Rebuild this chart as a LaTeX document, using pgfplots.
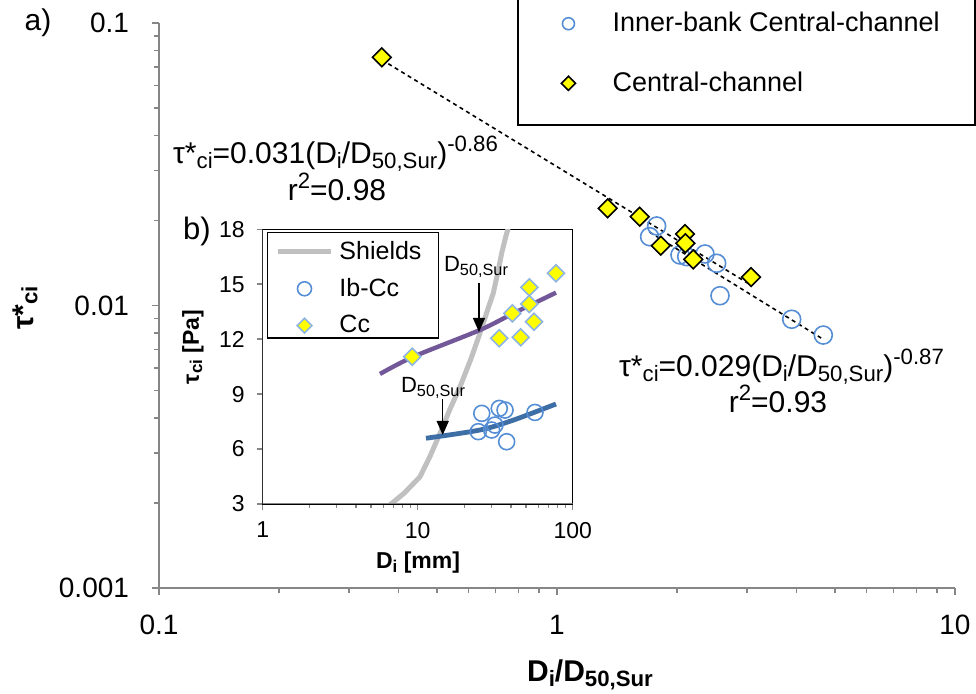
\documentclass[border=0pt]{standalone}
\usepackage{fontspec}
\setmainfont{Liberation Sans}
\usepackage{pgfplots}
\pgfplotsset{compat=1.18}
\usetikzlibrary{arrows.meta}
\definecolor{axgray}{RGB}{134,134,134}
\definecolor{cblue}{RGB}{85,142,213}
\definecolor{dblue}{RGB}{141,180,226}
\definecolor{cyel}{RGB}{255,255,0}
\definecolor{purp}{RGB}{114,88,152}
\definecolor{fitblue}{RGB}{62,110,166}
\definecolor{shgray}{RGB}{192,192,192}
\newcommand{\fs}[1]{\fontsize{#1pt}{#1pt}\selectfont}
\makeatletter
\newcommand{\sbt}[1]{{\@tempdima=\f@size pt\relax\raisebox{-0.14em}{\fontsize{\strip@pt\dimexpr 0.74\@tempdima\relax}{\strip@pt\dimexpr 0.74\@tempdima\relax}\selectfont #1}}}
\newcommand{\spt}[1]{{\@tempdima=\f@size pt\relax\raisebox{0.42em}{\fontsize{\strip@pt\dimexpr 0.74\@tempdima\relax}{\strip@pt\dimexpr 0.74\@tempdima\relax}\selectfont #1}}}
\makeatother
\begin{document}
\begin{tikzpicture}
\path[use as bounding box] (0pt,0pt) rectangle (488pt,-347pt);
% ---------------- main axis ----------------
\begin{axis}[
  at={(79.5pt,-294pt)}, anchor=south west,
  scale only axis, width=398pt, height=282.5pt,
  xmode=log, ymode=log, xmin=0.1, xmax=10, ymin=0.001, ymax=0.1,
  axis lines=left, axis line style={axgray, line width=0.75pt, -},
  tick style={axgray, line width=0.75pt}, tick align=outside,
  major tick length=3.5pt, minor tick length=2.5pt,
  xtick={0.1,1,10}, xticklabels={0.1,1,10},
  ytick={0.001,0.01,0.1}, yticklabels={0.001,0.01,0.1},
  minor xtick={0.2,0.3,0.4,0.5,0.6,0.7,0.8,0.9,2,3,4,5,6,7,8,9},
  minor ytick={0.002,0.003,0.004,0.005,0.006,0.007,0.008,0.009,0.02,0.03,0.04,0.05,0.06,0.07,0.08,0.09},
  xticklabel style={font=\fs{14}, yshift=-6.5pt},
  yticklabel style={font=\fs{14}, xshift=-8pt},
  clip=false,
  legend style={draw=none, fill=none, inner sep=0pt, row sep=14.5pt, column sep=16.5pt,
    font=\fs{13.5}, at={(axis description cs:0.505,1.0265)}, anchor=north west},
  legend cell align=left,
  legend image code/.code={\draw[mark repeat=2,mark phase=2,#1] plot coordinates {(0pt,0pt) (15pt,0pt) (30pt,0pt)};},
]
\addlegendimage{/tikz/only marks, mark=o, cblue, mark size=3pt, line width=0.8pt}
\addlegendentry{Inner-bank Central-channel}
\addlegendimage{/tikz/only marks, mark=square*, mark options={rotate=45, fill=cyel, draw=black}, mark size=2.5pt, line width=0.8pt}
\addlegendentry{Central-channel}
% Inner-bank Central-channel
\addplot[forget plot, only marks, mark=o, cblue, mark size=4.5pt, line width=0.8pt] coordinates {
 (1.780,0.01912) (1.709,0.01752) (2.037,0.01510) (2.118,0.01489) (2.354,0.01522)
 (2.519,0.01411) (2.568,0.01083) (3.888,0.00894) (4.668,0.00786)
};
% Central-channel
\addplot[forget plot, only marks, mark=square*, mark options={rotate=45, fill=cyel, draw=black}, mark size=3.3pt, line width=0.8pt] coordinates {
 (0.363,0.0756) (1.341,0.02208) (1.614,0.02062) (1.823,0.01628) (2.097,0.01791)
 (2.101,0.01661) (2.200,0.01457) (3.073,0.01261)
};
% power-law fits
\addplot[forget plot, black, line width=0.8pt, dash pattern=on 2pt off 1.8pt] coordinates {(0.363,0.0741) (3.073,0.01181)};
\addplot[forget plot, black, line width=0.8pt, dash pattern=on 2pt off 1.8pt] coordinates {(1.709,0.01819) (4.668,0.00759)};
\end{axis}
% ---------------- inset axis ----------------
\begin{axis}[
  at={(131.35pt,-252pt)}, anchor=south west,
  scale only axis, width=155pt, height=137.35pt,
  xmode=log, xmin=1, xmax=100, ymin=3, ymax=18,
  axis line style={black, line width=0.75pt},
  tick style={axgray, line width=0.75pt}, tick align=outside,
  major tick length=3pt, minor tick length=2pt,
  xtick={1,10,100}, xticklabels={1,10,100},
  ytick={3,6,9,12,15,18}, yticklabels={3,6,9,12,15,18},
  minor xtick={2,3,4,5,6,7,8,9,20,30,40,50,60,70,80,90},
  xtick pos=bottom, ytick pos=left,
  xticklabel style={font=\fs{11.5}, yshift=-2.5pt},
  yticklabel style={font=\fs{11.5}, xshift=-2.5pt},
  legend style={draw=none, fill=none, inner sep=0pt, row sep=4pt, column sep=1pt,
    font=\fs{12.5}, at={(axis description cs:0.04,0.973)}, anchor=north west},
  legend cell align=left,
  legend image code/.code={\draw[mark repeat=2,mark phase=2,#1] plot coordinates {(0pt,0pt) (13.25pt,0pt) (26.5pt,0pt)};},
]
\addlegendimage{shgray, line width=2.5pt}
\addlegendentry{Shields}
\addlegendimage{/tikz/only marks, mark=o, cblue, mark size=3.5pt, line width=0.8pt}
\addlegendentry{Ib-Cc}
\addlegendimage{/tikz/only marks, mark=square*, mark options={rotate=45, fill=cyel, draw=dblue}, mark size=2.6pt, line width=0.8pt}
\addlegendentry{Cc}
% Shields curve
\addplot[forget plot, shgray, line width=2.5pt] coordinates {
 (6.3,2.8) (8.2,3.6) (10.35,4.49) (12,5.6) (13.93,6.86) (16,8.1) (18.75,9.4)
 (22,10.9) (25.2,12.32) (28,13.5) (30.7,14.5) (33,15.7) (34.8,16.69) (37,17.6) (40,18.6)
};
% fits
\addplot[forget plot, purp, line width=2.2pt, smooth] coordinates {
 (5.71,10.1) (9.37,11.04) (25.2,12.5) (41.4,13.41) (78,14.54)
};
\addplot[forget plot, fitblue, line width=2.4pt, smooth] coordinates {
 (11.31,6.59) (25.2,7.04) (41.4,7.58) (78,8.46)
};
% Ib-Cc
\addplot[forget plot, only marks, mark=o, cblue, mark size=4pt, line width=0.8pt] coordinates {
 (25.9,7.95) (33.6,8.22) (36.6,8.13) (57.1,8.0) (24.6,6.95) (30.0,7.04) (31.5,7.31) (37.5,6.40)
};
% Cc
\addplot[forget plot, only marks, mark=square*, mark options={rotate=45, fill=cyel, draw=dblue}, mark size=3pt, line width=0.8pt] coordinates {
 (9.23,11.04) (33.6,12.05) (40.8,13.41) (46.2,12.10) (52.5,14.83) (52.5,13.92) (56.3,12.95) (78,15.6)
};
\draw[axgray, line width=0.75pt] (rel axis cs:0,0) -- (rel axis cs:1,0);
\draw[axgray, line width=0.75pt] (rel axis cs:0,0) -- (rel axis cs:0,1);
\end{axis}
% ---------------- annotations (pixel coordinates) ----------------
\begin{scope}[x=0.5pt, y=-0.5pt, every node/.style={inner sep=0pt}]
\draw[black, line width=0.75pt] (518,-10) rectangle (975,125);
\draw[black, line width=0.75pt] (267.3,232.7) rectangle (438.7,338);
\node[font=\fs{15}] at (38,23) {a)};
\node[font=\fs{15.5}] at (197,231) {b)};
\node[rotate=90, font=\bfseries\fs{15}] at (25,308) {τ*\sbt{ci}};
\node[anchor=base, font=\bfseries\fs{15}] at (590,682) {D\sbt{i}/D\sbt{50,Sur}};
\node[rotate=90, font=\bfseries\fs{11.5}] at (193,347) {τ\sbt{ci} [Pa]};
\node[anchor=base, font=\bfseries\fs{11.5}] at (418,569) {D\sbt{i} [mm]};
\node[anchor=base, font=\fs{15}] at (335.5,164) {τ*\sbt{ci}=0.031(D\sbt{i}/D\sbt{50,Sur})\spt{-0.86}};
\node[anchor=base, font=\fs{15}] at (337,201) {r\spt{2}=0.98};
\node[anchor=base, font=\fs{15}] at (781.5,377) {τ*\sbt{ci}=0.029(D\sbt{i}/D\sbt{50,Sur})\spt{-0.87}};
\node[anchor=base, font=\fs{15}] at (778,413) {r\spt{2}=0.93};
\node[anchor=base, font=\fs{11}] at (476,272) {D\sbt{50,Sur}};
\node[anchor=base, font=\fs{11}] at (433,393) {D\sbt{50,Sur}};
\draw[black, line width=0.7pt, -{Triangle[length=7pt,width=6pt]}] (479,283) -- (479,332);
\draw[black, line width=0.7pt, -{Triangle[length=7pt,width=6pt]}] (442.7,399) -- (442.7,435);
\end{scope}
\end{tikzpicture}
\end{document}
